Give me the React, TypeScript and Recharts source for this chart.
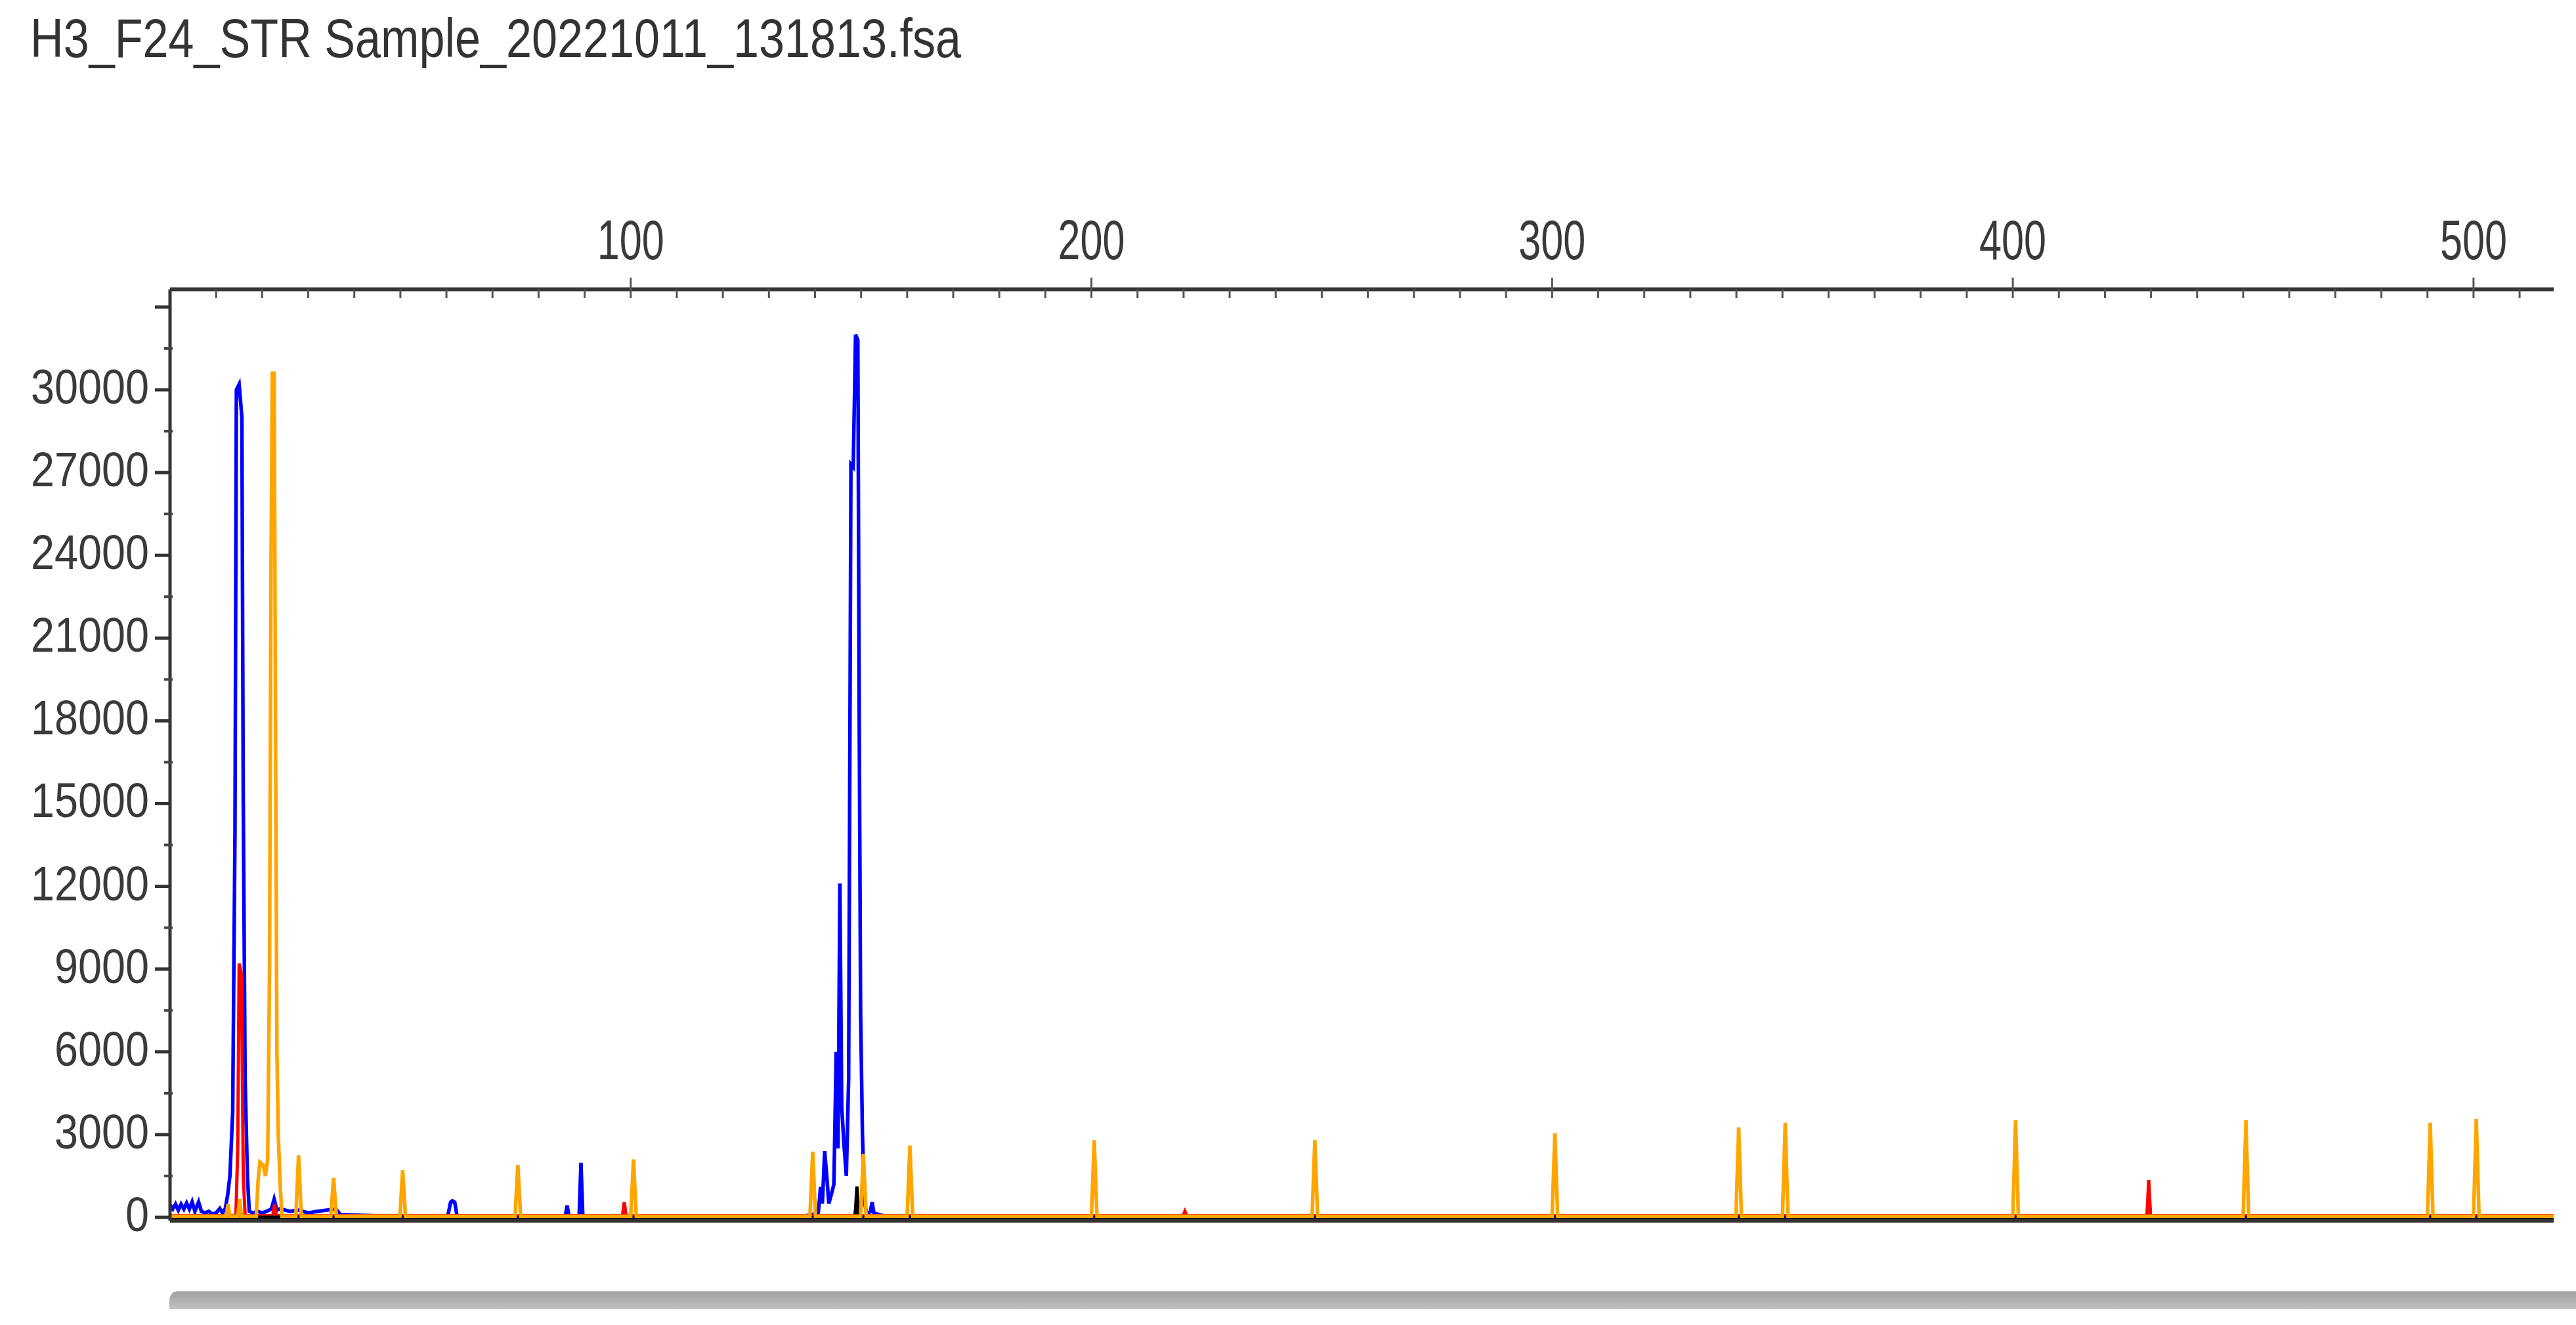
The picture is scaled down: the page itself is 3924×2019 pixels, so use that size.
import React from "react";
import { LineChart, Line, XAxis, YAxis } from "recharts";

const TITLE = "H3_F24_STR Sample_20221011_131813.fsa";

// [size (bp), RFU]
const BLUE_TRACE: [number, number][] = [
  [0, 450], [0.6, 300], [1.2, 480], [1.8, 260], [2.4, 480], [3.0, 300], [3.6, 520], [4.2, 300],
  [4.8, 560], [5.4, 220], [6.2, 560], [6.8, 220], [7.6, 160], [8.4, 220], [9.2, 120], [10.0, 160],
  [10.8, 320], [11.4, 160], [12.0, 320], [12.5, 800], [13.0, 1500], [13.6, 3800], [14.1, 14000],
  [14.4, 30000], [15.0, 30200], [15.6, 29000], [15.9, 15000], [16.3, 5000], [16.8, 1500], [17.2, 220],
  [18.0, 160], [19.0, 220], [20.0, 160], [21.0, 220], [22.0, 300], [22.6, 660], [23.2, 260],
  [24.0, 320], [25.0, 260], [26.0, 220], [28.0, 260], [30.0, 160], [32.0, 220], [34.0, 260],
  [36.0, 300], [37.0, 100], [45.0, 55], [60.3, 55], [60.9, 550], [61.3, 600], [61.8, 550],
  [62.3, 55], [85.8, 55], [86.2, 430], [86.6, 55], [88.8, 55], [89.2, 1980], [89.6, 55],
  [138.0, 55], [140.7, 150], [141.2, 1100], [141.6, 500], [142.1, 2400], [142.5, 1600],
  [143.0, 500], [143.5, 800], [144.1, 1200], [144.6, 6000], [145.0, 2500], [145.4, 12100],
  [145.8, 4000], [146.3, 2600], [146.8, 1500], [147.3, 5000], [147.8, 27300], [148.3, 27200],
  [148.8, 32000], [149.3, 31800], [149.6, 18000], [149.9, 7400], [150.3, 3000], [150.7, 600],
  [151.2, 150], [152.0, 200], [152.4, 550], [152.8, 150], [155.0, 50], [517.4, 50],
];

const RED_TRACE: [number, number][] = [
  [0, 60], [14.3, 60], [14.7, 2500], [15.0, 9200], [15.5, 8800], [15.9, 1500], [16.3, 60],
  [22.3, 60], [22.7, 480], [23.1, 60], [98.2, 60], [98.6, 550], [99.0, 60],
  [219.9, 60], [220.3, 220], [220.7, 60], [429.1, 60], [429.5, 1350], [429.9, 60], [517.4, 60],
];

const GREEN_TRACE: [number, number][] = [
  [0, 0], [148.5, 0], [148.9, 320], [149.3, 0], [517.4, 0],
];

const BLACK_TRACE: [number, number][] = [
  [0, 0], [148.7, 0], [149.1, 1120], [149.5, 0], [517.4, 0],
];

const ORANGE_TRACE: [number, number][] = [
  [0, 40], [12.2, 40], [12.6, 480], [13.0, 40], [14.7, 40], [15.1, 660], [15.5, 40],
  [18.7, 40], [19.1, 1300], [19.5, 2000], [20.2, 1900], [20.7, 1500], [21.2, 2100], [21.6, 9000],
  [21.9, 23000], [22.2, 30600], [22.6, 30600], [22.9, 18000], [23.2, 6000], [23.5, 3000],
  [23.9, 1200], [24.3, 40], [27.3, 40], [27.9, 2250], [28.5, 40], [34.9, 40], [35.5, 1430],
  [36.1, 40], [49.9, 40], [50.5, 1710], [51.1, 40], [74.9, 40], [75.5, 1900], [76.1, 40],
  [100.0, 40], [100.6, 2100], [101.2, 40], [138.9, 40], [139.5, 2380], [140.1, 40],
  [149.9, 40], [150.5, 2300], [151.1, 40], [160.0, 40], [160.6, 2600], [161.2, 40],
  [200.0, 40], [200.6, 2800], [201.2, 40], [247.9, 40], [248.5, 2800], [249.1, 40],
  [300.0, 40], [300.6, 3050], [301.2, 40], [339.9, 40], [340.5, 3260], [341.1, 40],
  [350.0, 40], [350.6, 3430], [351.2, 40], [400.0, 40], [400.6, 3520], [401.2, 40],
  [450.0, 40], [450.6, 3520], [451.2, 40], [490.0, 40], [490.6, 3430], [491.2, 40],
  [500.0, 40], [500.6, 3570], [501.2, 40], [517.4, 40],
];

const X_TICKS = [10, 20, 30, 40, 50, 60, 70, 80, 90, 100, 110, 120, 130, 140, 150, 160, 170, 180,
  190, 200, 210, 220, 230, 240, 250, 260, 270, 280, 290, 300, 310, 320, 330, 340, 350, 360, 370,
  380, 390, 400, 410, 420, 430, 440, 450, 460, 470, 480, 490, 500, 510];
const X_LABELS = [100, 200, 300, 400, 500];

const Y_TICKS = [0, 1500, 3000, 4500, 6000, 7500, 9000, 10500, 12000, 13500, 15000, 16500, 18000,
  19500, 21000, 22500, 24000, 25500, 27000, 28500, 30000, 31500, 33000];
const Y_LABELS = [0, 3000, 6000, 9000, 12000, 15000, 18000, 21000, 24000, 27000, 30000];

const W = 3924;
const H = 2019;
const PLOT_LEFT = 259;
const PLOT_TOP = 441;
const PLOT_RIGHT = 3890;
const PLOT_BOTTOM = 1860;
const FONT = "'Liberation Sans', Arial, sans-serif";

const toRows = (trace: [number, number][]) => trace.map(([bp, rfu]) => ({ bp, rfu }));

const TopTick = (props: any) => {
  const { x, payload } = props;
  const v = payload.value;
  const labelled = X_LABELS.includes(v);
  return (
    <g>
      <line x1={x} x2={x} y1={PLOT_TOP} y2={PLOT_TOP + 13} stroke="#555" strokeWidth={3} />
      {labelled && (
        <>
          <line x1={x} x2={x} y1={PLOT_TOP - 18} y2={PLOT_TOP} stroke="#555" strokeWidth={3} />
          <text
            x={x}
            y={395}
            textAnchor="middle"
            fontSize={86}
            fontFamily={FONT}
            fill="#3a3a3a"
            textLength={String(v).length * 34}
            lengthAdjust="spacingAndGlyphs"
          >
            {v}
          </text>
        </>
      )}
    </g>
  );
};

const LeftTick = (props: any) => {
  const { y, payload } = props;
  const v = payload.value;
  const major = v % 3000 === 0;
  const labelled = Y_LABELS.includes(v);
  return (
    <g>
      {major ? (
        <line x1={PLOT_LEFT - 23} x2={PLOT_LEFT} y1={y} y2={y} stroke="#333" strokeWidth={5} />
      ) : (
        <line x1={PLOT_LEFT - 9} x2={PLOT_LEFT + 4} y1={y} y2={y} stroke="#444" strokeWidth={4} />
      )}
      {labelled && (
        <text
          x={227}
          y={y + 21}
          textAnchor="end"
          fontSize={75}
          fontFamily={FONT}
          fill="#3a3a3a"
          textLength={String(v).length * 36}
          lengthAdjust="spacingAndGlyphs"
        >
          {v}
        </text>
      )}
    </g>
  );
};

export default function App() {
  return (
    <div style={{ position: "absolute", left: 0, top: 0, width: W, height: H, background: "#fff", overflow: "hidden" }}>
      <svg width={W} height={H} style={{ position: "absolute", left: 0, top: 0 }}>
        <text
          x={46}
          y={87}
          fontSize={84}
          fontFamily={FONT}
          fill="#333"
          textLength={1418}
          lengthAdjust="spacingAndGlyphs"
        >
          {TITLE}
        </text>
        <defs>
          <linearGradient id="scroll" x1="0" y1="0" x2="0" y2="1">
            <stop offset="0" stopColor="#d0d0d0" />
            <stop offset="0.08" stopColor="#a2a2a2" />
            <stop offset="1" stopColor="#c2c2c2" />
          </linearGradient>
        </defs>
        <path
          d={`M258 1995 L258 1983 Q258 1967 274 1967 L${W} 1967 L${W} 1995 Z`}
          fill="url(#scroll)"
        />
      </svg>
      <div style={{ position: "absolute", left: 0, top: 0 }}>
        <LineChart
          width={W}
          height={H}
          margin={{ top: 0, right: W - PLOT_RIGHT, bottom: 0, left: 0 }}
        >
          <XAxis
            xAxisId="top"
            orientation="top"
            type="number"
            dataKey="bp"
            domain={[0, 517.4]}
            allowDataOverflow
            ticks={X_TICKS}
            interval={0}
            height={PLOT_TOP}
            tick={<TopTick />}
            tickLine={false}
            axisLine={{ stroke: "#333", strokeWidth: 6 }}
          />
          <XAxis
            xAxisId="bottom"
            orientation="bottom"
            type="number"
            dataKey="bp"
            domain={[0, 517.4]}
            allowDataOverflow
            height={H - PLOT_BOTTOM}
            tick={false}
            tickLine={false}
            axisLine={{ stroke: "#333", strokeWidth: 6 }}
          />
          <YAxis
            type="number"
            domain={[-120, 33640]}
            allowDataOverflow
            ticks={Y_TICKS}
            interval={0}
            width={PLOT_LEFT}
            tick={<LeftTick />}
            tickLine={false}
            axisLine={{ stroke: "#333", strokeWidth: 5 }}
          />
          <Line xAxisId="top" data={toRows(BLUE_TRACE)} dataKey="rfu" type="linear" stroke="#0000ff" strokeWidth={5.5} dot={false} isAnimationActive={false} />
          <Line xAxisId="top" data={toRows(RED_TRACE)} dataKey="rfu" type="linear" stroke="#ff0000" strokeWidth={5} dot={false} isAnimationActive={false} />
          <Line xAxisId="top" data={toRows(GREEN_TRACE)} dataKey="rfu" type="linear" stroke="#008000" strokeWidth={5} dot={false} isAnimationActive={false} />
          <Line xAxisId="top" data={toRows(BLACK_TRACE)} dataKey="rfu" type="linear" stroke="#000000" strokeWidth={5} dot={false} isAnimationActive={false} />
          <Line xAxisId="top" data={toRows(ORANGE_TRACE)} dataKey="rfu" type="linear" stroke="#ffa500" strokeWidth={5.5} dot={false} isAnimationActive={false} />
        </LineChart>
      </div>
    </div>
  );
}
